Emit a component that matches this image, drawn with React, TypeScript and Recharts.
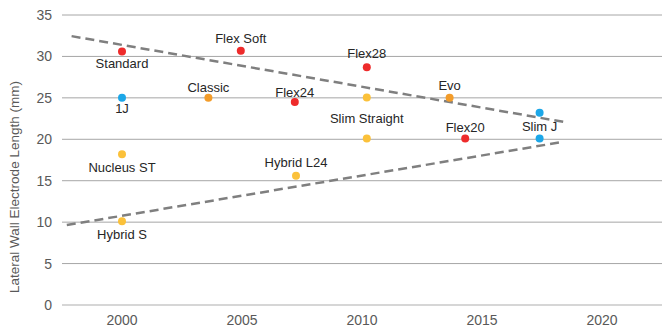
import {
  ScatterChart,
  Scatter,
  XAxis,
  YAxis,
  CartesianGrid,
  ReferenceLine,
} from "recharts";

// electrode models: name, release year, lateral wall length (mm)
const medelNames = ["Standard", "Flex Soft", "Flex24", "Flex28", "Flex20"];
const medelYears = [2000, 2004.95, 2007.2, 2010.2, 2014.3];
const medelLengths = [30.6, 30.7, 24.5, 28.7, 20.1];

const cochlearNames = ["Nucleus ST", "Hybrid S", "Hybrid L24", "", "Slim Straight"];
const cochlearYears = [2000, 2000, 2007.25, 2010.2, 2010.2];
const cochlearLengths = [18.2, 10.1, 15.6, 25.05, 20.1];

const abNames = ["1J", "", "Slim J"];
const abYears = [2000, 2017.4, 2017.4];
const abLengths = [25, 23.2, 20.1];

const oticonNames = ["Classic", "Evo"];
const oticonYears = [2003.6, 2013.65];
const oticonLengths = [25, 25];

const upperTrend = [
  { x: 1997.9, y: 32.45 },
  { x: 2018.4, y: 22.1 },
];
const lowerTrend = [
  { x: 1997.7, y: 9.65 },
  { x: 2018.4, y: 19.7 },
];

const xTicks = [2000, 2005, 2010, 2015, 2020];
const yTicks = [0, 5, 10, 15, 20, 25, 30, 35];

// vertical offset of each label from its dot (px)
const labelDy: Record<string, number> = {
  Standard: 12,
  "Flex Soft": -12,
  "1J": 11,
  Classic: -10.5,
  Flex24: -9.5,
  "Nucleus ST": 13,
  "Hybrid L24": -13.5,
  "Hybrid S": 13,
  Flex28: -13.4,
  "Slim Straight": -20,
  Evo: -12.4,
  Flex20: -11.3,
  "Slim J": -12,
};

const FONT = "'Liberation Sans', Arial, sans-serif";

const toRows = (names: string[], years: number[], lengths: number[]) =>
  names.map((name, i) => ({ name, year: years[i], length: lengths[i] }));

const makeShape = (color: string) => (props: any) => {
  const { cx, cy, payload } = props;
  const name = payload.name as string;
  return (
    <g>
      <circle cx={cx} cy={cy} r={4} fill={color} />
      {name && (
        <text
          x={cx}
          y={cy + (labelDy[name] ?? 0)}
          textAnchor="middle"
          dominantBaseline="central"
          fontSize={13}
          fontFamily={FONT}
          fill="#262626"
        >
          {name}
        </text>
      )}
    </g>
  );
};

const YLabel = () => (
  <text
    x={14}
    y={187}
    transform="rotate(-90 14 187)"
    textAnchor="middle"
    dominantBaseline="central"
    fontSize={13.5}
    fontFamily={FONT}
    fill="#595959"
  >
    Lateral Wall Electrode Length (mm)
  </text>
);

export default function App() {
  const tick = { fill: "#595959", fontSize: 14, fontFamily: FONT };
  return (
    <div style={{ position: "absolute", left: 0, top: 0, background: "#fff" }}>
      <ScatterChart
        width={662}
        height={329}
        margin={{ top: 15, right: 0, bottom: 0, left: 0 }}
      >
        <CartesianGrid vertical={false} stroke="#a6a6a6" />
        <XAxis
          type="number"
          dataKey="year"
          domain={[1997.5, 2022.5]}
          ticks={xTicks}
          allowDataOverflow
          height={24}
          tickLine={false}
          tickSize={8}
          tickMargin={2}
          axisLine={{ stroke: "#d9d9d9" }}
          tick={tick}
        />
        <YAxis
          type="number"
          dataKey="length"
          domain={[0, 35]}
          ticks={yTicks}
          width={62}
          tickLine={false}
          axisLine={false}
          tickSize={8}
          tickMargin={2}
          tick={tick}
          label={{ content: () => <YLabel /> }}
        />
        <ReferenceLine
          segment={upperTrend}
          stroke="#7f7f7f"
          strokeWidth={2.5}
          strokeDasharray="9 5"
        />
        <ReferenceLine
          segment={lowerTrend}
          stroke="#7f7f7f"
          strokeWidth={2.5}
          strokeDasharray="9 5"
        />
        <Scatter
          data={toRows(medelNames, medelYears, medelLengths)}
          shape={makeShape("#ee2b2b")}
          isAnimationActive={false}
        />
        <Scatter
          data={toRows(cochlearNames, cochlearYears, cochlearLengths)}
          shape={makeShape("#fbc13a")}
          isAnimationActive={false}
        />
        <Scatter
          data={toRows(abNames, abYears, abLengths)}
          shape={makeShape("#1ca7e8")}
          isAnimationActive={false}
        />
        <Scatter
          data={toRows(oticonNames, oticonYears, oticonLengths)}
          shape={makeShape("#f39c2a")}
          isAnimationActive={false}
        />
      </ScatterChart>
    </div>
  );
}
